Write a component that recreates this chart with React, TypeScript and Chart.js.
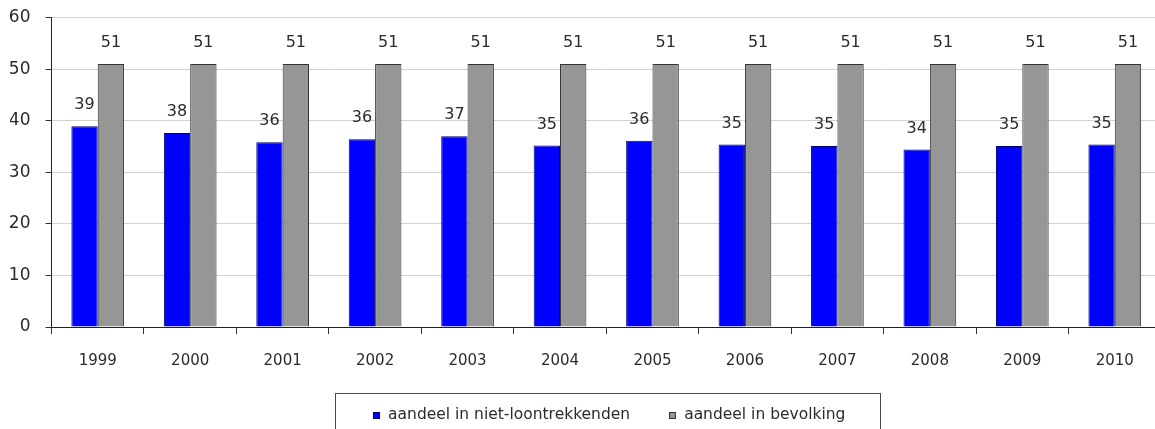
import React, { useEffect, useRef } from "react";
import { Chart, registerables } from "chart.js";

Chart.register(...registerables);

const categories = ["1999", "2000", "2001", "2002", "2003", "2004", "2005", "2006", "2007", "2008", "2009", "2010"];
const nietLoontrekkenden = [38.9, 37.6, 35.8, 36.4, 37.0, 35.2, 36.1, 35.4, 35.1, 34.4, 35.1, 35.4];
const bevolking = [51, 51, 51, 51, 51, 51, 51, 51, 51, 51, 51, 51];
const seriesNames = ["aandeel in niet-loontrekkenden", "aandeel in bevolking"];
const yTicks = [0, 10, 20, 30, 40, 50, 60];

const FONT = "'DejaVu Sans', Verdana, sans-serif";
const TEXT = "#2b2b2b";

const valueLabels = {
  id: "valueLabels",
  afterDatasetsDraw(chart: any) {
    const ctx = chart.ctx;
    ctx.save();
    ctx.font = `16px ${FONT}`;
    ctx.fillStyle = TEXT;
    ctx.textAlign = "center";
    ctx.textBaseline = "middle";
    chart.data.datasets.forEach((ds: any, i: number) => {
      const meta = chart.getDatasetMeta(i);
      meta.data.forEach((bar: any, j: number) => {
        ctx.fillText(String(Math.round(ds.data[j])), bar.x, bar.y - 21);
      });
    });
    ctx.restore();
  },
};

const boxedLegend = {
  id: "boxedLegend",
  afterDraw(chart: any) {
    const ctx = chart.ctx;
    const area = chart.chartArea;
    ctx.save();
    ctx.font = `15.5px ${FONT}`;
    const sq = 7;
    const gap = 8;
    const spacing = 39;
    const items = chart.data.datasets.map((ds: any) => ({
      label: ds.label,
      bg: ds.backgroundColor,
      border: ds.borderColor,
      w: ctx.measureText(ds.label).width,
    }));
    let total = 0;
    items.forEach((it: any, i: number) => {
      total += sq + gap + it.w + (i < items.length - 1 ? spacing : 0);
    });
    const cx = (area.left + area.right) / 2 + 3;
    let x = cx - total / 2;
    const boxTop = chart.scales.x.bottom + 24;
    const cy = boxTop + 22;
    ctx.strokeStyle = "#4a4a4a";
    ctx.lineWidth = 1;
    ctx.strokeRect(Math.round(x - 38) + 0.5, Math.round(boxTop) + 0.5, Math.round(total + 73), 60);
    ctx.textBaseline = "middle";
    ctx.textAlign = "left";
    items.forEach((it: any) => {
      ctx.fillStyle = it.bg;
      ctx.fillRect(Math.round(x), Math.round(cy - sq / 2), sq, sq);
      ctx.strokeStyle = it.border;
      ctx.strokeRect(Math.round(x) + 0.5, Math.round(cy - sq / 2) + 0.5, sq - 1, sq - 1);
      ctx.fillStyle = TEXT;
      ctx.fillText(it.label, x + sq + gap, cy);
      x += sq + gap + it.w + spacing;
    });
    ctx.restore();
  },
};

export default function App() {
  const ref = useRef<HTMLCanvasElement | null>(null);

  useEffect(() => {
    document.body.style.margin = "0";
    document.body.style.overflow = "hidden";
    if (!ref.current) return;
    const chart = new Chart(ref.current, {
      type: "bar",
      data: {
        labels: categories,
        datasets: [
          {
            label: seriesNames[0],
            data: nietLoontrekkenden,
            backgroundColor: "#0000ff",
            borderColor: "#00007a",
            borderWidth: 1,
            categoryPercentage: 0.57,
            barPercentage: 1.0,
          },
          {
            label: seriesNames[1],
            data: bevolking,
            backgroundColor: "#969696",
            borderColor: "#333333",
            borderWidth: 1,
            categoryPercentage: 0.57,
            barPercentage: 1.0,
          },
        ],
      },
      options: {
        animation: false,
        responsive: false,
        maintainAspectRatio: false,
        layout: { padding: { top: 17.5, left: 10, right: 4, bottom: 60 } },
        plugins: {
          legend: { display: false },
          tooltip: { enabled: false },
        },
        scales: {
          x: {
            offset: true,
            afterFit: (scale: any) => {
              scale.height = 42;
            },
            grid: {
              offset: true,
              drawOnChartArea: false,
              drawTicks: true,
              tickLength: 7,
              color: "#333333",
            },
            border: { display: true, color: "#222222", width: 1 },
            ticks: {
              font: { family: FONT, size: 15 },
              color: TEXT,
              padding: 18,
              maxRotation: 0,
            },
          },
          y: {
            min: 0,
            max: 60,
            afterBuildTicks: (scale: any) => {
              scale.ticks = yTicks.map((v) => ({ value: v }));
            },
            afterFit: (scale: any) => {
              scale.width = 41.5;
              scale.paddingTop = 0;
              scale.paddingBottom = 0;
            },
            grid: {
              color: "#d2d2d2",
              tickColor: "#333333",
              tickLength: 6,
            },
            border: { display: true, color: "#222222", width: 1 },
            ticks: {
              font: { family: FONT, size: 17 },
              color: TEXT,
              padding: 15,
            },
          },
        },
      },
      plugins: [valueLabels, boxedLegend],
    });
    return () => chart.destroy();
  }, []);

  return (
    <div style={{ width: 1165, height: 429, position: "relative", overflow: "hidden" }}>
      <canvas ref={ref} width={1165} height={429} style={{ width: 1165, height: 429, display: "block" }} />
    </div>
  );
}
